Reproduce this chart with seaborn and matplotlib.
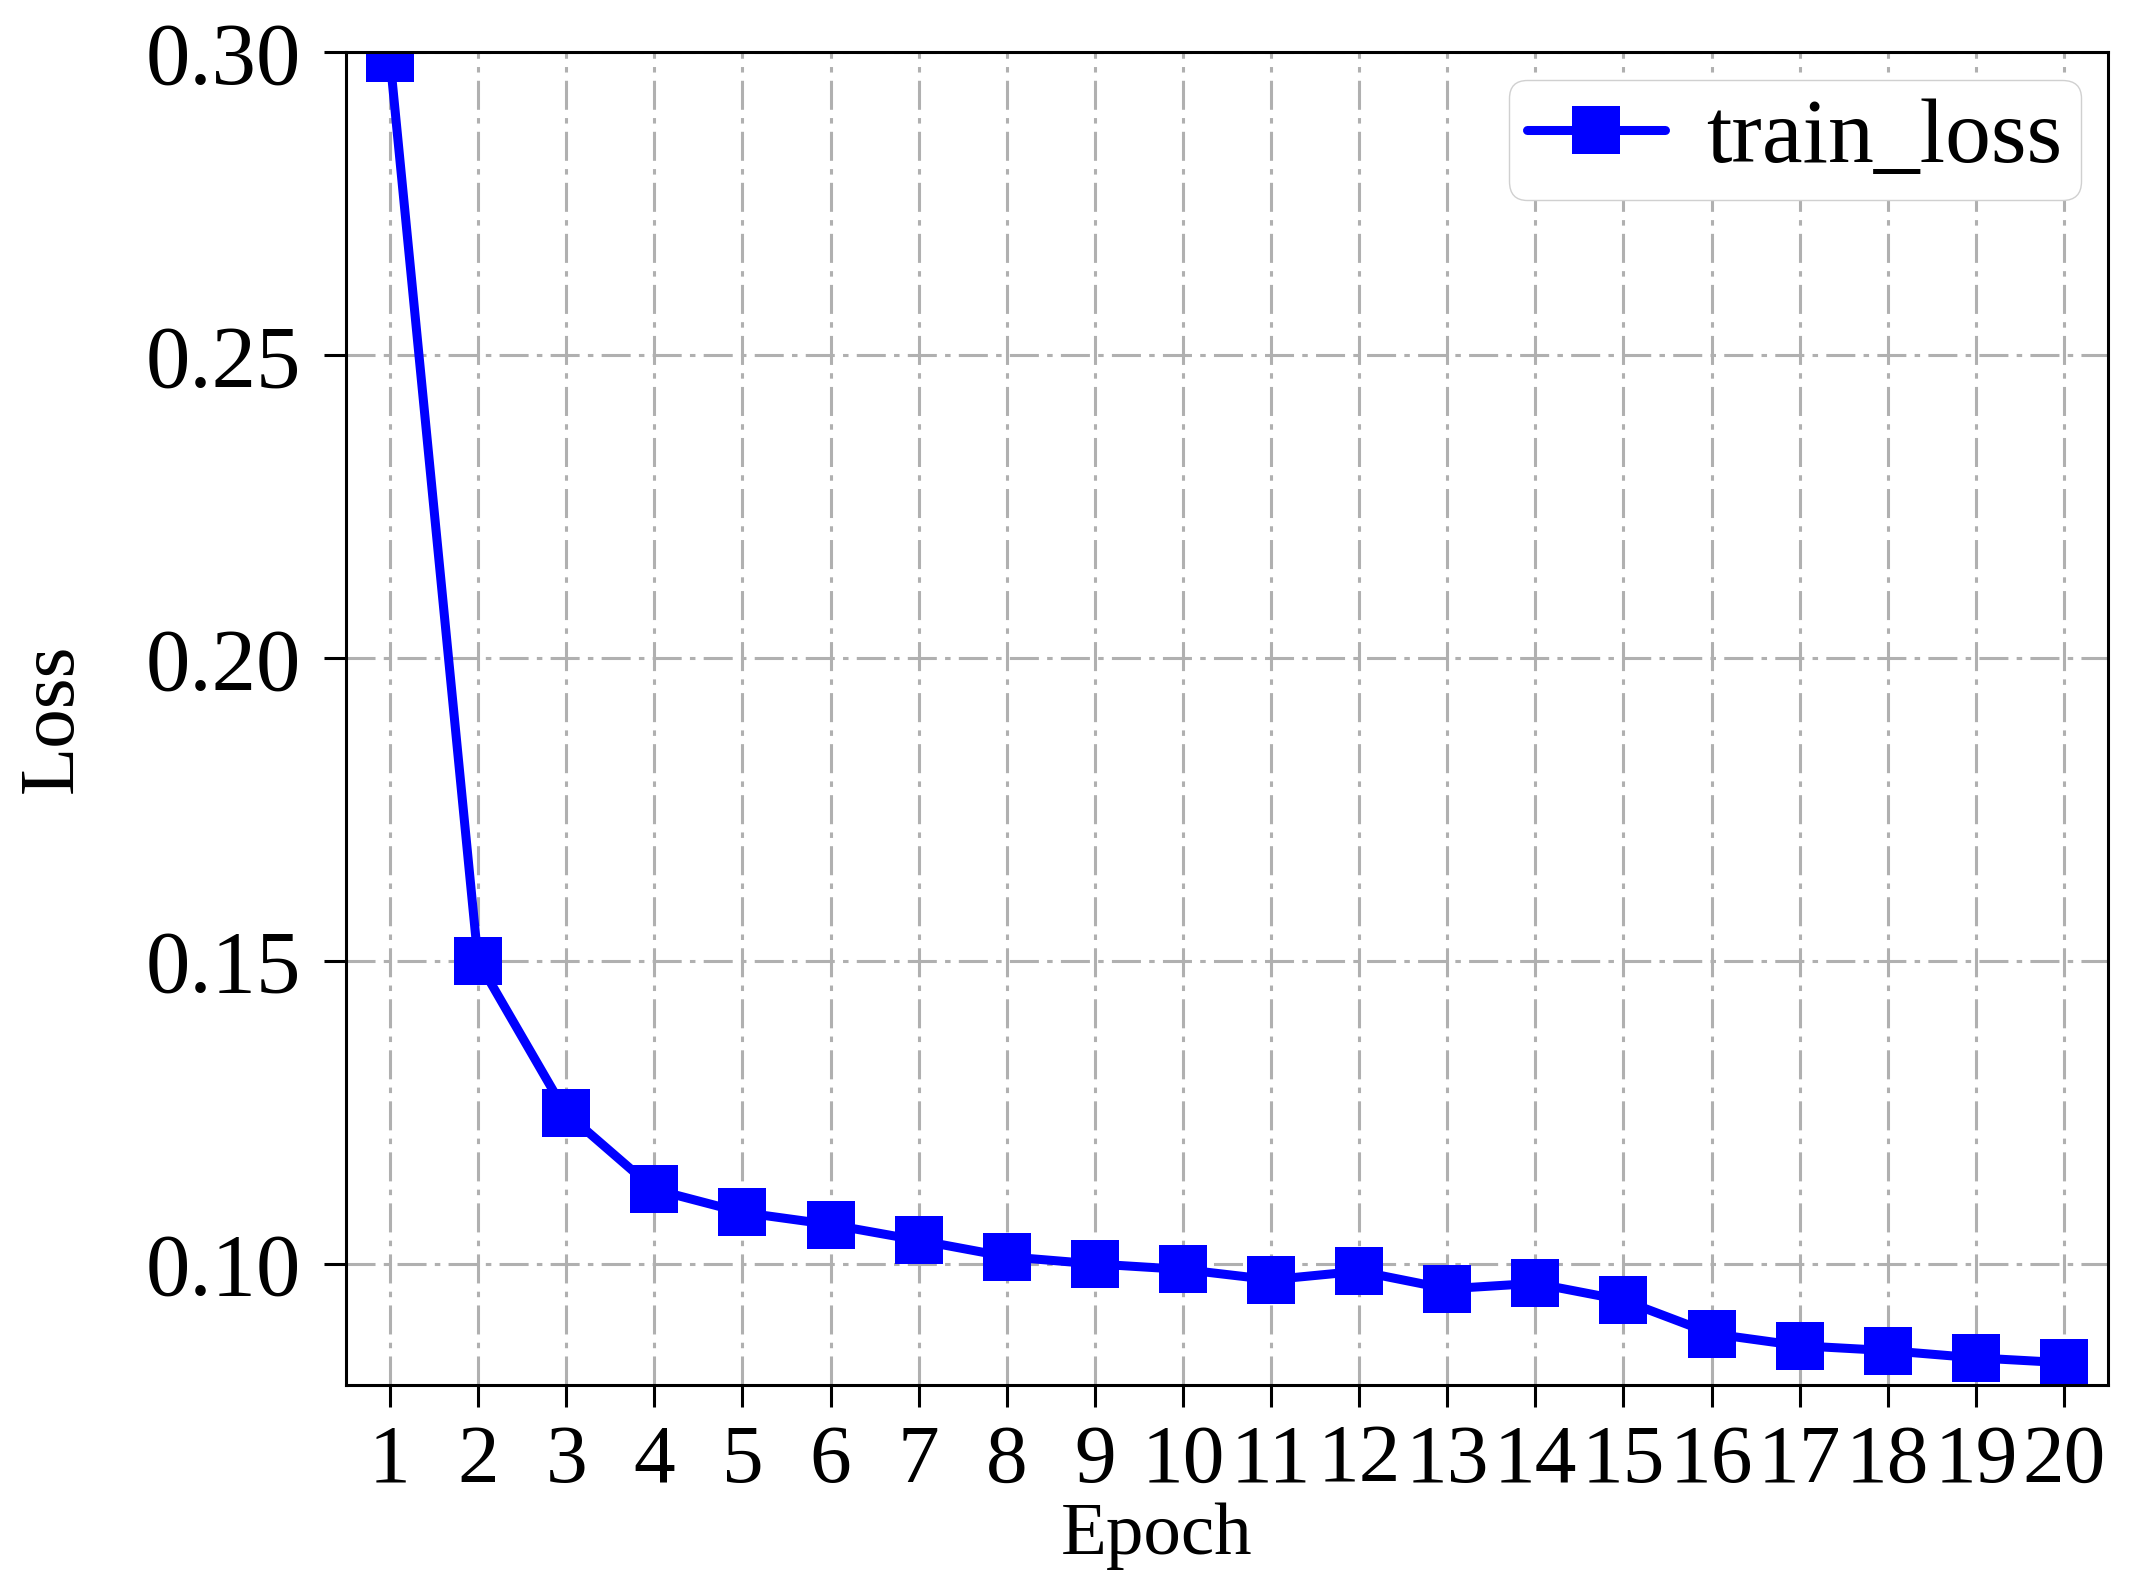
import numpy as np
import pandas as pd
import matplotlib
matplotlib.use("Agg")
import matplotlib.pyplot as plt
import seaborn as sns

# ------------------------------------------------------------
# Datos
# ------------------------------------------------------------

epochs = list(range(1, 21))
train_loss = [
    0.299, 0.150, 0.1249, 0.1123, 0.1085, 0.1065, 0.1039, 0.1012, 0.1000, 0.0991,
    0.0974, 0.0988, 0.0959, 0.0968, 0.0940, 0.0885, 0.0865, 0.0857, 0.0845, 0.0837,
]
y_ticks = [0.10, 0.15, 0.20, 0.25, 0.30]

df = pd.DataFrame({"Epoch": epochs, "Loss": train_loss})

# ------------------------------------------------------------
# Estilo
# ------------------------------------------------------------

sns.set_style("ticks")
plt.rcParams["font.family"] = ["Liberation Serif", "DejaVu Serif"]
plt.rcParams["text.color"] = "black"
plt.rcParams["axes.labelcolor"] = "black"

fig = plt.figure(figsize=(21.46, 15.83), dpi=100)
ax = fig.add_axes([0.1612, 0.125, 0.8211, 0.842])

sns.lineplot(
    data=df,
    x="Epoch",
    y="Loss",
    ax=ax,
    color="#0000ff",
    linewidth=6.5,
    marker="s",
    markersize=34,
    markeredgewidth=0,
    label="train_loss",
)

ax.set_xlim(0.5, 20.5)
ax.set_ylim(0.08, 0.30)
ax.set_xticks(epochs)
ax.set_yticks(y_ticks)
ax.set_yticklabels([f"{v:.2f}" for v in y_ticks])

ax.grid(True, linestyle=(0, (9.5, 2.7, 1.8, 2.7)), color="#b0b0b0", linewidth=2.2)
ax.set_axisbelow(True)

for s in ax.spines.values():
    s.set_linewidth(2.2)
    s.set_color("black")

ax.tick_params(axis="both", direction="out", length=16, width=2.2,
               color="black", labelcolor="black")
ax.tick_params(axis="y", pad=16, labelsize=64)
ax.tick_params(axis="x", pad=12, labelsize=60)

ax.set_xlabel("Epoch", fontsize=54)
ax.xaxis.set_label_coords(0.46, -0.088)
ax.set_ylabel("Loss", fontsize=57)
ax.yaxis.set_label_coords(-0.146, 0.5)

ax.legend(
    loc="upper right",
    fontsize=66,
    handlelength=1.5,
    handletextpad=0.45,
    borderpad=0.2,
    borderaxespad=0.3,
    frameon=True,
    fancybox=True,
    edgecolor="#d0d0d0",
    framealpha=1.0,
)

plt.savefig("out.png", dpi=100)
plt.close()
